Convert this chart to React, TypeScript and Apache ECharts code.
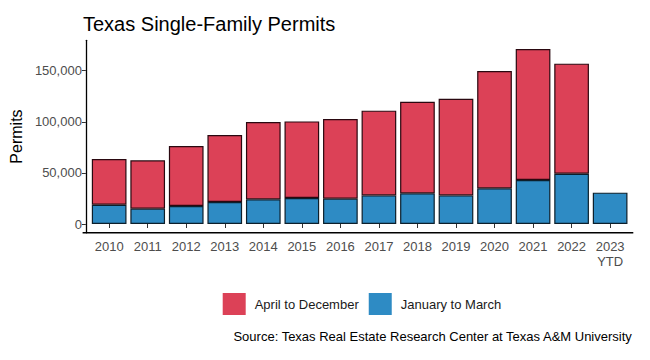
import React, { useEffect, useRef } from "react";
import * as echarts from "echarts";

const years = ["2010", "2011", "2012", "2013", "2014", "2015", "2016", "2017", "2018", "2019", "2020", "2021", "2022", "2023\nYTD"];
const janToMar = [18900, 15000, 17600, 21500, 24100, 25400, 24800, 28000, 30000, 28000, 34900, 43000, 49200, 30700];
const aprToDec = [44700, 47300, 58700, 65600, 75700, 75000, 77900, 82900, 89700, 94600, 114800, 128200, 107700, null];
const yTicks = [0, 50000, 100000, 150000];

const FONT = "Liberation Sans, Arial, sans-serif";

export default function App() {
  const ref = useRef<HTMLDivElement>(null);
  useEffect(() => {
    if (!ref.current) return;
    const chart = echarts.init(ref.current, null, { renderer: "svg" });
    chart.setOption({
      animation: false,
      textStyle: { fontFamily: FONT },
      title: {
        text: "Texas Single-Family Permits",
        left: 78,
        top: 9,
        textStyle: { fontSize: 20, fontWeight: "normal", color: "#000", fontFamily: FONT },
      },
      grid: { left: 86.6, right: 20.6, top: 40.3, bottom: 127.25, containLabel: false },
      legend: {
        data: ["April to December", "January to March"],
        left: 217.7,
        top: 288,
        itemWidth: 23,
        itemHeight: 22,
        itemGap: 10,
        icon: "rect",
        itemStyle: { borderWidth: 0 },
        textStyle: { fontSize: 13, color: "#1a1a1a", fontFamily: FONT, padding: [0, 0, 0, 4] },
      },
      xAxis: {
        type: "category",
        data: years,
        axisLine: { show: false },
        axisTick: { show: true, alignWithLabel: true, length: 4, lineStyle: { color: "#333", width: 1 } },
        axisLabel: { fontSize: 13, color: "#4d4d4d", margin: 6, lineHeight: 15, fontFamily: FONT },
      },
      yAxis: {
        type: "value",
        min: -8560,
        max: 179760,
        offset: 4,
        name: "Permits",
        nameLocation: "middle",
        nameGap: 61,
        nameRotate: 90,
        nameTextStyle: { fontSize: 16, color: "#000", fontFamily: FONT },
        splitLine: { show: false },
        axisLine: { show: true, lineStyle: { color: "#000", width: 1.3 } },
        axisTick: { show: true, length: 4, customValues: yTicks, lineStyle: { color: "#333", width: 1 } },
        axisLabel: {
          fontSize: 13,
          color: "#4d4d4d",
          margin: 4,
          customValues: yTicks,
          fontFamily: FONT,
          formatter: (v: number) => v.toLocaleString("en-US"),
        },
      },
      graphic: [
        {
          type: "line",
          shape: { x1: 82.6, y1: 232.75, x2: 633.3, y2: 232.75 },
          style: { stroke: "#000", lineWidth: 1.3 },
          z: 10,
        },
        {
          type: "text",
          right: 17,
          top: 330,
          style: {
            text: "Source: Texas Real Estate Research Center at Texas A&M University",
            fontSize: 13,
            fill: "#000",
            fontFamily: FONT,
          },
        },
      ],
      series: [
        {
          name: "January to March",
          type: "bar",
          stack: "total",
          data: janToMar,
          barWidth: "90%",
          itemStyle: { color: "#2E8BC4", borderColor: "#0d1f2b", borderWidth: 1.2 },
        },
        {
          name: "April to December",
          type: "bar",
          stack: "total",
          data: aprToDec,
          barWidth: "90%",
          itemStyle: { color: "#DC4157", borderColor: "#2a0810", borderWidth: 1.2 },
        },
      ],
    });
    return () => chart.dispose();
  }, []);
  return (
    <div
      ref={ref}
      style={{ position: "absolute", left: 0, top: 0, width: 650, height: 360, background: "#fff" }}
    />
  );
}
